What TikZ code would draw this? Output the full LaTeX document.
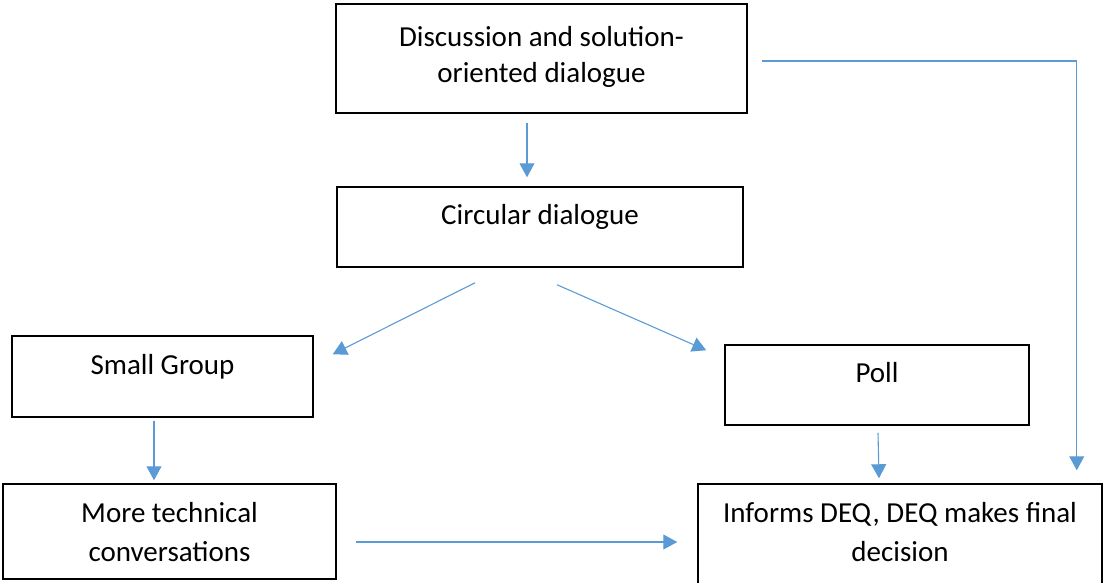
\documentclass[tikz,border=0pt]{standalone}
\usepackage{fontspec}
\setmainfont{Carlito}
\usetikzlibrary{arrows.meta}
\definecolor{arrblue}{HTML}{5B9BD5}
\begin{document}
\begin{tikzpicture}[x=1pt,y=-1pt,
  box/.style={draw=black, line width=1.5pt, inner sep=0pt},
  txt/.style={anchor=base, inner sep=0pt, font=\fontsize{29}{36}\selectfont},
  txtb/.style={anchor=base, inner sep=0pt, font=\fontsize{29}{39}\selectfont},
  arr/.style={draw=arrblue, line width=1.1pt, -{Triangle[length=14pt,width=15pt]}}]
\useasboundingbox (0,0) rectangle (1103,582);
% boxes
\node[box, minimum width=411pt, minimum height=109pt] (b1) at (541.5,58.5) {};
\node[box, minimum width=406pt, minimum height=80pt] (b2) at (540,227) {};
\node[box, minimum width=301pt, minimum height=81pt] (sg) at (162.5,376.5) {};
\node[box, minimum width=304pt, minimum height=80pt] (poll) at (877,385) {};
\node[box, minimum width=333pt, minimum height=95pt] (mt) at (169.5,531.5) {};
\node[box, minimum width=404pt, minimum height=111pt] (inf) at (900,539.5) {};
% texts
\node[txt] (t1) at ([shift={(0,43)}]b1.north) {\begin{tabular}[t]{@{}c@{}}Discussion and solution-\\oriented dialogue\end{tabular}};
\node[txt] (t2) at ([shift={(0,38)}]b2.north) {Circular dialogue};
\node[txt] (t3) at ([shift={(0,39)}]sg.north) {Small Group};
\node[txt] (t4) at ([shift={(0,38)}]poll.north) {Poll};
\node[txtb] (t5) at ([shift={(0,39)}]mt.north) {\begin{tabular}[t]{@{}c@{}}More technical\\conversations\end{tabular}};
\node[txtb] (t6) at ([shift={(0,39)}]inf.north) {\begin{tabular}[t]{@{}c@{}}Informs DEQ, DEQ makes final\\decision\end{tabular}};
% connectors
\draw[arr] ([shift={(-14.5,9)}]b1.south) -- ([shift={(-13,-9)}]b2.north);
\draw[arr] ([shift={(-65,15)}]b2.south) -- ([shift={(19,19)}]sg.north east);
\draw[arr] ([shift={(17,17)}]b2.south) -- ([shift={(-18,6)}]poll.north west);
\draw[arr] ([shift={(-8.5,3)}]sg.south) -- ([shift={(-15.5,-3)}]mt.north);
\draw[arr] ([shift={(1,7)}]poll.south) -- ([shift={(-21,-5)}]inf.north);
\draw[arr] ([shift={(19,10.5)}]mt.east) -- ([shift={(-20,2.5)}]inf.west);
\draw[arr] ([shift={(14,2.5)}]b1.east) -| ([shift={(-26,-13)}]inf.north east);
\end{tikzpicture}
\end{document}
